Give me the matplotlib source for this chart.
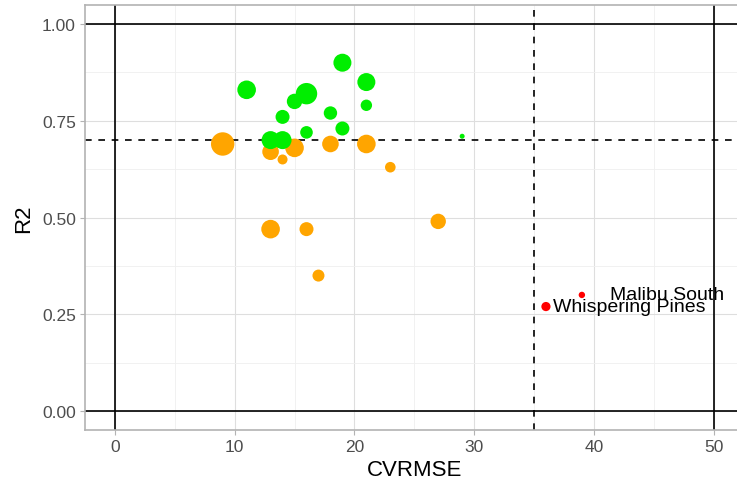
import numpy as np
import matplotlib
matplotlib.use("Agg")
import matplotlib.pyplot as plt
from matplotlib.ticker import MultipleLocator, FormatStrFormatter

plt.rcParams["font.family"] = ["Liberation Sans", "DejaVu Sans"]

# -------------------------
# Data
# -------------------------
good_cvrmse = [11, 19, 21, 16, 15, 14, 18, 21, 16, 19, 13, 14, 29]
good_r2 = [0.83, 0.90, 0.85, 0.82, 0.80, 0.76, 0.77, 0.79, 0.72, 0.73, 0.70, 0.70, 0.71]
good_weight = [9.3, 9.0, 9.0, 10.7, 7.7, 7.0, 6.7, 5.7, 6.3, 7.0, 9.0, 9.0, 2.5]

fair_cvrmse = [9, 13, 14, 15, 18, 21, 23, 27, 13, 16, 17]
fair_r2 = [0.69, 0.67, 0.65, 0.68, 0.69, 0.69, 0.63, 0.49, 0.47, 0.47, 0.35]
fair_weight = [11.7, 8.3, 5.0, 9.3, 8.3, 9.3, 5.3, 7.7, 9.3, 7.0, 6.0]

bad_names = ["Whispering Pines", "Malibu South"]
bad_cvrmse = [36, 39]
bad_r2 = [0.27, 0.30]
bad_weight = [4.6, 3.2]

cv_limit = 35
r2_limit = 0.7

DPI = 100
W, H = 737, 489


def bubble(weights):
    # weight is the bubble radius in px -> marker area in pt^2
    d = 2 * np.asarray(weights) * 72 / DPI
    return d ** 2


fig = plt.figure(figsize=(W / DPI, H / DPI), dpi=DPI)
left, right, top, bottom = 85, 743.5, 5.65, 431.4
ax = fig.add_axes([left / W, 1 - bottom / H, (right - left) / W, (bottom - top) / H])

ax.set_xlim(-2.5, 52.5)
ax.set_ylim(-0.05, 1.05)

# grid (theme_light style)
ax.xaxis.set_major_locator(MultipleLocator(10))
ax.xaxis.set_minor_locator(MultipleLocator(5))
ax.yaxis.set_major_locator(MultipleLocator(0.25))
ax.yaxis.set_minor_locator(MultipleLocator(0.125))
ax.yaxis.set_major_formatter(FormatStrFormatter("%.2f"))
ax.grid(which="major", color="#DEDEDE", linewidth=0.8)
ax.grid(which="minor", color="#EFEFEF", linewidth=0.6)
ax.set_axisbelow(True)
for sp in ax.spines.values():
    sp.set_color("#B3B3B3")
    sp.set_linewidth(1.2)
ax.tick_params(which="major", color="#B3B3B3", length=3.5, width=0.8,
               labelcolor="#4D4D4D", labelsize=12.5, pad=3)
ax.tick_params(which="minor", length=0)

# reference lines
for v in (0, 50):
    ax.axvline(v, color="black", linewidth=1.2, zorder=1)
for v in (0, 1):
    ax.axhline(v, color="black", linewidth=1.2, zorder=1)
ax.axvline(cv_limit, color="black", linewidth=1.2, linestyle=(0, (4, 4)), zorder=1)
ax.axhline(r2_limit, color="black", linewidth=1.2, linestyle=(0, (4, 4)), zorder=1)

ax.scatter(fair_cvrmse, fair_r2, s=bubble(fair_weight), color="#FFA500",
           linewidths=0, zorder=2)
ax.scatter(good_cvrmse, good_r2, s=bubble(good_weight), color="#00EE00",
           linewidths=0, zorder=3)
ax.scatter(bad_cvrmse, bad_r2, s=bubble(bad_weight), color="#FF0000",
           linewidths=0, zorder=3)

offsets = {"Whispering Pines": 7, "Malibu South": 28}
for name, x, y in zip(bad_names, bad_cvrmse, bad_r2):
    ax.annotate(name, (x, y), xytext=(offsets[name], 0), textcoords="offset pixels",
                ha="left", va="center", fontsize=14, color="black", zorder=4)

ax.set_xlabel("CVRMSE", fontsize=16, labelpad=3)
ax.set_ylabel("R2", fontsize=16, labelpad=6)

fig.savefig("out.png", dpi=DPI)
